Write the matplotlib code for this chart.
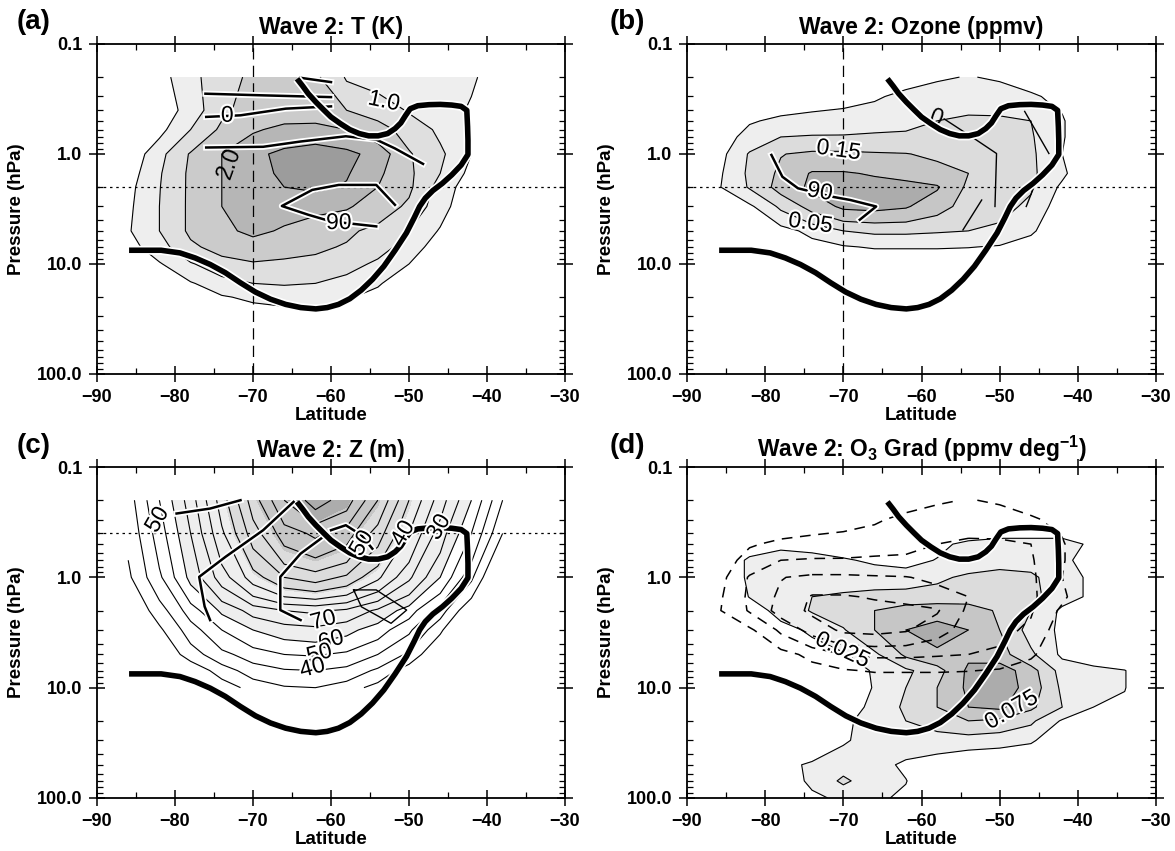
import matplotlib
matplotlib.use('Agg')
import matplotlib.pyplot as plt
import matplotlib.patheffects as pe
from matplotlib.ticker import LogLocator, NullFormatter, FixedLocator
import numpy as np

plt.rcParams['font.family'] = ['Liberation Sans', 'DejaVu Sans']
plt.rcParams['mathtext.fontset'] = 'custom'
plt.rcParams['mathtext.rm'] = 'Liberation Sans'
plt.rcParams['mathtext.bf'] = 'Liberation Sans:bold'
plt.rcParams['mathtext.default'] = 'bf'

# polar vortex edge (same in every panel)
edge_lat = [-85.89, -81.78, -79.36, -77.42, -75.49, -73.55, -71.62, -69.68, -67.75, -65.81,
            -63.88, -61.94, -60.49, -59.04, -57.59, -56.13, -54.68, -53.23, -51.78, -50.33,
            -49.36, -48.64, -47.91, -46.94, -45.73, -44.52, -43.31, -42.44, -42.44, -42.49,
            -42.59, -43.31, -44.52, -45.98, -47.43, -48.88, -49.85, -50.43, -51.05, -51.78,
            -52.75, -53.96, -55.17, -56.38, -57.59, -58.79, -60.0, -60.97, -61.94, -62.91,
            -63.63, -64.36]
edge_p = [7.50, 7.50, 7.93, 8.81, 10.1, 12.0, 14.8, 18.0, 20.9, 23.3,
          24.9, 25.6, 24.9, 23.3, 20.7, 17.3, 13.8, 10.5, 7.5, 5.22,
          3.83, 3.00, 2.52, 2.15, 1.85, 1.55, 1.26, 1.01, 0.748, 0.567,
          0.401, 0.369, 0.359, 0.354, 0.356, 0.364, 0.388, 0.445, 0.522, 0.587,
          0.652, 0.684, 0.684, 0.652, 0.600, 0.530, 0.461, 0.395, 0.337, 0.283,
          0.241, 0.207]

# (a) wave-2 temperature amplitude (K)
lat_a = [-86, -82, -78, -74, -70, -66, -62, -58, -54, -50, -46, -42, -38]
p_a = [0.2, 0.4, 0.6, 1.0, 1.5, 2.0, 3.0, 5.0, 7.0, 10.0, 15.0, 20.0, 30.0]
amp_T = [
    [0.0, 0.3, 0.85, 1.3, 1.6, 1.7, 1.6, 0.95, 0.8, 0.75, 0.65, 0.55, 0.3],
    [0.0, 0.2, 0.7, 1.4, 1.7, 1.8, 1.75, 1.5, 1.3, 0.95, 0.7, 0.45, 0.1],
    [0.0, 0.35, 1.0, 1.6, 1.95, 2.1, 2.15, 2.0, 1.7, 1.3, 0.9, 0.5, 0.1],
    [0.1, 0.85, 1.55, 2.0, 2.35, 2.65, 2.8, 2.65, 2.3, 1.55, 1.1, 0.5, 0.1],
    [0.25, 0.95, 1.6, 2.0, 2.3, 2.6, 2.75, 2.55, 2.1, 1.6, 1.0, 0.35, 0.0],
    [0.35, 0.98, 1.6, 2.0, 2.25, 2.5, 2.6, 2.45, 2.0, 1.6, 0.8, 0.2, 0.0],
    [0.4, 1.0, 1.6, 2.0, 2.2, 2.15, 2.1, 2.05, 1.8, 1.4, 0.7, 0.1, 0.0],
    [0.45, 1.0, 1.6, 1.9, 2.1, 1.95, 1.8, 1.6, 1.35, 1.0, 0.45, 0.0, 0.0],
    [0.3, 0.8, 1.4, 1.7, 1.8, 1.7, 1.6, 1.45, 1.2, 0.8, 0.2, 0.0, 0.0],
    [0.0, 0.45, 0.95, 1.3, 1.45, 1.4, 1.35, 1.2, 0.9, 0.5, 0.0, 0.0, 0.0],
    [0.0, 0.1, 0.45, 0.8, 1.0, 1.05, 1.0, 0.8, 0.55, 0.2, 0.0, 0.0, 0.0],
    [0.0, 0.0, 0.2, 0.45, 0.6, 0.65, 0.65, 0.55, 0.35, 0.05, 0.0, 0.0, 0.0],
    [0.0, 0.0, 0.0, 0.1, 0.2, 0.3, 0.35, 0.3, 0.1, 0.0, 0.0, 0.0, 0.0],
]
levels_a = [0.5, 1.0, 1.5, 2.0, 2.5]

# (b) wave-2 ozone amplitude (ppmv)
lat_b = [-86, -82, -78, -74, -70, -66, -62, -58, -54, -50, -46, -42, -38]
p_b = [0.2, 0.3, 0.5, 0.7, 1.0, 1.5, 2.0, 3.0, 5.0, 7.0, 10.0]
amp_O3 = [
    [0, 0, 0, 0, 0.01, 0.02, 0.035, 0.045, 0.052, 0.045, 0.035, 0.02, 0],
    [0, 0.01, 0.02, 0.03, 0.035, 0.045, 0.06, 0.07, 0.075, 0.07, 0.055, 0.04, 0],
    [0, 0.045, 0.06, 0.065, 0.07, 0.075, 0.085, 0.10, 0.11, 0.11, 0.10, 0.055, 0],
    [0.02, 0.07, 0.10, 0.105, 0.105, 0.11, 0.11, 0.115, 0.12, 0.12, 0.105, 0.055, 0],
    [0.03, 0.105, 0.148, 0.16, 0.16, 0.155, 0.152, 0.14, 0.13, 0.12, 0.11, 0.05, 0],
    [0.04, 0.11, 0.16, 0.205, 0.205, 0.195, 0.185, 0.17, 0.15, 0.13, 0.11, 0.06, 0],
    [0.045, 0.105, 0.17, 0.21, 0.22, 0.22, 0.215, 0.205, 0.14, 0.12, 0.105, 0.04, 0],
    [0, 0.04, 0.11, 0.17, 0.21, 0.215, 0.205, 0.17, 0.13, 0.115, 0.09, 0.02, 0],
    [0, 0, 0.03, 0.065, 0.1, 0.11, 0.11, 0.105, 0.1, 0.09, 0.06, 0, 0],
    [0, 0, 0.01, 0.03, 0.045, 0.055, 0.055, 0.055, 0.052, 0.045, 0.02, 0, 0],
    [0, 0, 0, 0, 0, 0, 0, 0, 0, 0, 0, 0, 0],
]
levels_b = [0.05, 0.10, 0.15, 0.20]

# (c) wave-2 geopotential height amplitude (m)
lat_c = [-86, -82, -78, -74, -70, -66, -62, -58, -54, -50, -46, -42, -38]
p_c = [0.2, 0.4, 1.0, 2.0, 3.0, 5.0, 7.0, 10.0]
amp_Z = [
    [25, 50, 75, 105, 135, 160, 175, 165, 140, 110, 85, 60, 30],
    [22, 45, 70, 98, 125, 145, 152, 145, 125, 100, 75, 50, 20],
    [18, 38, 63, 85, 105, 120, 125, 118, 102, 82, 60, 32, 0],
    [10, 25, 45, 62, 74, 80, 82, 78, 68, 55, 35, 10, 0],
    [5, 18, 35, 50, 60, 65, 67, 63, 55, 42, 22, 0, 0],
    [0, 10, 25, 37, 45, 50, 51, 48, 40, 28, 8, 0, 0],
    [0, 3, 12, 25, 35, 39, 40, 37, 28, 14, 0, 0, 0],
    [0, 0, 4, 14, 24, 29, 30, 25, 16, 4, 0, 0, 0],
]
lines_c = list(range(20, 180, 10))
fills_c = [60, 108, 138, 162]

# (d) wave-2 ozone gradient amplitude (ppmv deg-1)
lat_d = [-86, -82, -78, -74, -70, -66, -62, -58, -54, -50, -46, -42, -38, -34, -30]
p_d = [0.3, 0.5, 0.7, 1.0, 1.5, 2.0, 3.0, 5.0, 7.0, 10.0, 15.0, 20.0, 30.0, 50.0, 70.0, 100.0]
amp_grad = [
    [0, 0, 0, 0, 0, 0, 0, 0, 0, 0, 0, 0, 0, 0, 0],
    [0, 0.01, 0.02, 0.02, 0.015, 0.01, 0.015, 0.02, 0.03, 0.035, 0.035, 0.035, 0.02, 0, 0],
    [0, 0.03, 0.035, 0.03, 0.027, 0.022, 0.018, 0.026, 0.035, 0.04, 0.04, 0.03, 0.015, 0, 0],
    [0, 0.03, 0.035, 0.035, 0.035, 0.035, 0.035, 0.045, 0.055, 0.06, 0.055, 0.035, 0.02, 0, 0],
    [0, 0.026, 0.04, 0.05, 0.055, 0.06, 0.062, 0.062, 0.065, 0.065, 0.058, 0.035, 0.02, 0, 0],
    [0, 0.01, 0.035, 0.052, 0.062, 0.075, 0.085, 0.09, 0.085, 0.072, 0.05, 0.02, 0, 0, 0],
    [0, 0, 0.015, 0.03, 0.048, 0.075, 0.1, 0.11, 0.1, 0.075, 0.04, 0.02, 0.01, 0, 0],
    [0, 0, 0, 0.01, 0.022, 0.045, 0.08, 0.095, 0.095, 0.085, 0.055, 0.02, 0.01, 0, 0],
    [0, 0, 0, 0, 0.015, 0.027, 0.045, 0.065, 0.105, 0.115, 0.085, 0.04, 0.032, 0.026, 0],
    [0, 0, 0, 0, 0.015, 0.026, 0.05, 0.075, 0.105, 0.115, 0.09, 0.045, 0.035, 0.026, 0],
    [0, 0, 0, 0, 0.015, 0.03, 0.055, 0.075, 0.1, 0.105, 0.08, 0.05, 0.025, 0.02, 0],
    [0, 0, 0, 0, 0.02, 0.035, 0.05, 0.06, 0.075, 0.07, 0.055, 0.022, 0.01, 0, 0],
    [0, 0, 0, 0, 0.022, 0.035, 0.04, 0.04, 0.038, 0.034, 0.028, 0.01, 0, 0, 0],
    [0, 0, 0.015, 0.03, 0.04, 0.035, 0.02, 0.01, 0, 0, 0, 0, 0, 0, 0],
    [0, 0, 0.01, 0.03, 0.055, 0.035, 0.026, 0, 0, 0, 0, 0, 0, 0, 0],
    [0, 0, 0, 0.02, 0.03, 0.03, 0.02, 0, 0, 0, 0, 0, 0, 0, 0],
]
levels_d = [0.025, 0.05, 0.075, 0.1]

# phase contours, traced as (lat list, pressure list)
phase_a = [
    ([-76.1, -68.7, -60], [0.283, 0.293, 0.304]),
    ([-76, -71.6, -65.8, -60], [0.46, 0.445, 0.387, 0.369]),
    ([-76, -68.7, -63.9, -58.1, -54.2, -51.8, -48.2], [0.873, 0.86, 0.77, 0.69, 0.74, 0.89, 1.23]),
    ([-51.8, -54.2, -59, -62.4, -66.3, -62.9, -60, -54.2], [2.9, 1.91, 1.91, 2.12, 2.97, 3.57, 4.1, 4.55]),
    ([-63.9, -60], [0.203, 0.222]),
]
phase_b = [
    ([-79.2, -77.8, -75.8, -71.5, -69.1, -65.8, -67.9], [1.02, 1.61, 2.05, 2.44, 2.62, 3.0, 3.96]),
]
thin_b = [
    ([-57.1, -53.3, -50.4, -50.6], [0.48, 0.72, 0.99, 3.0]),
    ([-46.8, -43.7], [0.41, 0.99]),
    ([-45.6, -46.6], [1.98, 3.0]),
    ([-52.3, -54.7], [2.62, 4.9]),
]
phase_c = [
    ([-79.8, -75.5, -71.6], [0.264, 0.238, 0.2]),
    ([-64.8, -68.7, -73.5, -76.9, -76.2, -75.5], [0.207, 0.374, 0.65, 0.99, 1.84, 2.44]),
    ([-61, -63.9, -66.5, -66.5, -63.9], [0.43, 0.61, 0.99, 1.98, 2.44]),
    ([-60, -58.1, -56.1, -54.7], [0.374, 0.337, 0.415, 0.55]),
]
thin_c = [
    ([-57.1, -56.1, -52.3, -50.3, -54.2, -57.1], [1.3, 1.85, 2.61, 1.98, 1.3, 1.3]),
]

grays4 = ['#eeeeee', '#dcdcdc', '#c6c6c6', '#acacac']
grays5 = ['#eeeeee', '#dfdfdf', '#cbcbcb', '#b6b6b6', '#9c9c9c']

halo = [pe.Stroke(linewidth=4.4, foreground='white'), pe.Normal()]
halo_edge = [pe.Stroke(linewidth=6.5, foreground='white'), pe.Normal()]
txt_halo = [pe.withStroke(linewidth=3, foreground='white')]
LABEL_SIZE = 16.5


def style(ax, title):
    ax.set_yscale('log')
    ax.set_xlim(-90, -30)
    ax.set_ylim(100, 0.1)
    ax.set_xticks(range(-90, -29, 10))
    ax.xaxis.set_minor_locator(FixedLocator(range(-85, -30, 10)))
    ax.set_yticks([0.1, 1, 10, 100])
    ax.set_yticklabels(['0.1', '1.0', '10.0', '100.0'])
    ax.yaxis.set_minor_locator(LogLocator(base=10, subs=range(2, 10)))
    ax.yaxis.set_minor_formatter(NullFormatter())
    ax.tick_params(which='major', direction='inout', length=11.5, width=1.1,
                   top=True, right=True, labelsize=13, pad=5)
    ax.tick_params(which='minor', direction='in', length=4.5, width=0.9, top=True, right=True)
    for lab in ax.get_xticklabels() + ax.get_yticklabels():
        lab.set_fontweight('bold')
    for s in ax.spines.values():
        s.set_linewidth(1.3)
    ax.set_xlabel('Latitude', fontweight='bold', fontsize=13.5, labelpad=1)
    ax.set_ylabel('Pressure (hPa)', fontweight='bold', fontsize=13.5)
    ax.yaxis.set_label_coords(-0.153, 0.5)
    ax.set_title(title, fontweight='bold', fontsize=16.5, pad=7)


def field(ax, lat, p, z, fill_levels, colors, line_levels):
    z = np.array(z)
    ax.contourf(lat, p, z, levels=list(fill_levels) + [1e6], colors=colors, zorder=1)
    ax.contour(lat, p, z, levels=line_levels, colors='black', linewidths=0.8, zorder=2)


def vortex(ax):
    ax.plot(edge_lat, edge_p, color='black', lw=4, solid_capstyle='butt',
            solid_joinstyle='round', path_effects=halo_edge, zorder=6)


def label(ax, lat, p, s, rot=0, halo_on=True):
    ax.text(lat, p, s, fontsize=LABEL_SIZE, rotation=rot, ha='center', va='center',
            path_effects=txt_halo if halo_on else None, zorder=7)


fig = plt.figure(figsize=(11.75, 8.51), dpi=100)
W, H = 1175, 851
ax_a = fig.add_axes([97 / W, 1 - 374 / H, 468 / W, 330 / H])
ax_b = fig.add_axes([687 / W, 1 - 374 / H, 469 / W, 330 / H])
ax_c = fig.add_axes([97 / W, 1 - 798 / H, 468 / W, 331 / H])
ax_d = fig.add_axes([687 / W, 1 - 798 / H, 469 / W, 331 / H])

# (a)
field(ax_a, lat_a, p_a, amp_T, levels_a, grays5, levels_a)
ax_a.axvline(-70, color='black', lw=0.9, ls=(0, (9, 5)), zorder=3)
ax_a.axhline(2.0, color='black', lw=0.9, ls=(0, (2, 3)), zorder=3)
for la, pp in phase_a:
    ax_a.plot(la, pp, color='black', lw=1.8, path_effects=halo, zorder=4)
vortex(ax_a)
label(ax_a, -53.2, 0.33, '1.0', -12)
label(ax_a, -73.0, 1.2, '2.0', 70, False)
label(ax_a, -73.3, 0.445, '0')
label(ax_a, -59.0, 4.2, '90')
style(ax_a, 'Wave 2: T (K)')

# (b)
field(ax_b, lat_b, p_b, amp_O3, levels_b, grays4, levels_b)
ax_b.axvline(-70, color='black', lw=0.9, ls=(0, (9, 5)), zorder=3)
ax_b.axhline(2.0, color='black', lw=0.9, ls=(0, (2, 3)), zorder=3)
for la, pp in thin_b:
    ax_b.plot(la, pp, color='black', lw=1.0, zorder=4)
for la, pp in phase_b:
    ax_b.plot(la, pp, color='black', lw=1.8, path_effects=halo, zorder=4)
vortex(ax_b)
label(ax_b, -70.6, 0.92, '0.15', -8)
label(ax_b, -74.2, 4.25, '0.05', -8)
label(ax_b, -73.0, 2.2, '90', -10)
ax_b.text(-58.2, 0.47, '0', fontsize=LABEL_SIZE, rotation=-20, ha='center', va='center', zorder=5)
style(ax_b, 'Wave 2: Ozone (ppmv)')

# (c)
field(ax_c, lat_c, p_c, amp_Z, fills_c, grays4, lines_c)
ax_c.axhline(0.4, color='black', lw=0.9, ls=(0, (2, 3)), zorder=3)
for la, pp in thin_c:
    ax_c.plot(la, pp, color='black', lw=1.0, zorder=4)
for la, pp in phase_c:
    ax_c.plot(la, pp, color='black', lw=1.8, path_effects=halo, zorder=4)
vortex(ax_c)
for la, pp, s in [(-61, 2.44, '70'), (-60, 3.7, '60'), (-61.5, 4.9, '50'), (-62.4, 6.6, '40')]:
    label(ax_c, la, pp, s, 15)
for la, pp, s in [(-82.3, 0.30, '50'), (-56.1, 0.49, '50'), (-50.8, 0.4, '40'), (-46.2, 0.35, '30')]:
    label(ax_c, la, pp, s, 60)
style(ax_c, 'Wave 2: Z (m)')

# (d)
field(ax_d, lat_d, p_d, amp_grad, levels_d, grays4, levels_d)
ax_d.contour(lat_b, p_b, np.array(amp_O3), levels=levels_b, colors='black',
             linewidths=1.1, linestyles=[(0, (7, 5))], zorder=3)
vortex(ax_d)
label(ax_d, -70.1, 4.55, '0.025', -25)
label(ax_d, -48.5, 15.9, '0.075', 30)
style(ax_d, r'Wave 2: O$_3$ Grad (ppmv deg$^{-1}$)')

for x, y, s in [(17, 29, '(a)'), (610, 29, '(b)'), (17, 453, '(c)'), (610, 453, '(d)')]:
    fig.text(x / W, 1 - y / H, s, fontsize=20, fontweight='bold', ha='left', va='baseline')

fig.savefig('out.png', dpi=100)
